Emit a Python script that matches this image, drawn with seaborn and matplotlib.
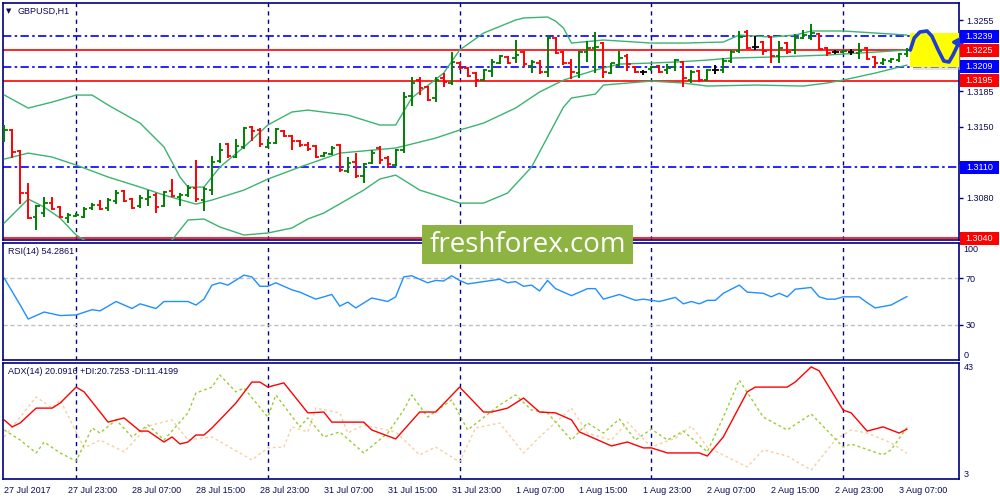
import numpy as np
import pandas as pd
import matplotlib
matplotlib.use("Agg")
import matplotlib.pyplot as plt
import matplotlib.transforms as mtransforms
from matplotlib.patches import Rectangle
import seaborn as sns

sns.set_style("white")
plt.rcParams['font.family'] = ['Liberation Sans', 'DejaVu Sans']

# ---------------- data ----------------
opens = [1.31367, 1.31465, 1.31258, 1.30844, 1.30607, 1.30647, 1.30745, 1.30706, 1.30597, 1.30617,
         1.30607, 1.30696, 1.30726, 1.30696, 1.30765, 1.30864, 1.30785, 1.30716, 1.30785, 1.30824,
         1.30716, 1.30864, 1.30804, 1.30824, 1.30893, 1.30775, 1.30873, 1.31159, 1.31327, 1.31199,
         1.31298, 1.31495, 1.31465, 1.31298, 1.31337, 1.31455, 1.31406, 1.31357, 1.31317, 1.31307,
         1.31209, 1.31229, 1.31317, 1.31061, 1.31150, 1.31012, 1.31140, 1.31288, 1.31189, 1.31120,
         1.31268, 1.31800, 1.31958, 1.31889, 1.31781, 1.31978, 1.31929, 1.32126, 1.32077, 1.32027,
         1.31958, 1.32047, 1.32126, 1.32185, 1.32175, 1.32234, 1.32096, 1.32126, 1.32037, 1.32373,
         1.32234, 1.32126, 1.32027, 1.32234, 1.32274, 1.32323, 1.32027, 1.32106, 1.32195, 1.32086,
         1.32037, 1.32067, 1.32096, 1.32057, 1.32086, 1.32136, 1.31958, 1.32047, 1.31958, 1.32057,
         1.32057, 1.32146, 1.32244, 1.32432, 1.32284, 1.32333, 1.32382, 1.32195, 1.32323, 1.32254,
         1.32373, 1.32373, 1.32412, 1.32274, 1.32234, 1.32234, 1.32234, 1.32225, 1.32274, 1.32185,
         1.32126, 1.32146, 1.32155, 1.32215]
highs = [1.31515, 1.31475, 1.31268, 1.30943, 1.30726, 1.30804, 1.30804, 1.30716, 1.30647, 1.30647,
         1.30706, 1.30745, 1.30775, 1.30795, 1.30873, 1.30873, 1.30795, 1.30824, 1.30873, 1.30844,
         1.30864, 1.30982, 1.30844, 1.30923, 1.31169, 1.30903, 1.31209, 1.31337, 1.31337, 1.31376,
         1.31495, 1.31505, 1.31485, 1.31376, 1.31485, 1.31465, 1.31416, 1.31367, 1.31347, 1.31317,
         1.31248, 1.31307, 1.31327, 1.31199, 1.31238, 1.31140, 1.31268, 1.31307, 1.31209, 1.31278,
         1.31840, 1.31988, 1.31988, 1.31899, 1.31988, 1.32027, 1.32234, 1.32136, 1.32086, 1.32037,
         1.32067, 1.32165, 1.32205, 1.32195, 1.32353, 1.32244, 1.32155, 1.32155, 1.32392, 1.32382,
         1.32244, 1.32165, 1.32244, 1.32343, 1.32432, 1.32333, 1.32126, 1.32244, 1.32215, 1.32096,
         1.32057, 1.32096, 1.32106, 1.32116, 1.32165, 1.32146, 1.32057, 1.32057, 1.32067, 1.32106,
         1.32175, 1.32254, 1.32442, 1.32451, 1.32392, 1.32343, 1.32392, 1.32343, 1.32333, 1.32412,
         1.32451, 1.32511, 1.32422, 1.32284, 1.32254, 1.32254, 1.32264, 1.32323, 1.32284, 1.32195,
         1.32175, 1.32175, 1.32225, 1.32274]
lows = [1.31347, 1.31189, 1.30735, 1.30587, 1.30479, 1.30607, 1.30676, 1.30597, 1.30548, 1.30607,
        1.30597, 1.30676, 1.30676, 1.30666, 1.30735, 1.30755, 1.30686, 1.30696, 1.30716, 1.30647,
        1.30706, 1.30804, 1.30716, 1.30804, 1.30755, 1.30666, 1.30824, 1.31140, 1.31189, 1.31189,
        1.31278, 1.31357, 1.31298, 1.31288, 1.31327, 1.31396, 1.31268, 1.31298, 1.31258, 1.31189,
        1.31199, 1.31219, 1.31051, 1.31041, 1.30992, 1.30943, 1.31130, 1.31130, 1.31090, 1.31110,
        1.31238, 1.31702, 1.31810, 1.31751, 1.31741, 1.31889, 1.31909, 1.32057, 1.31988, 1.31889,
        1.31948, 1.31988, 1.32116, 1.32116, 1.32126, 1.32086, 1.32027, 1.32017, 1.31988, 1.32215,
        1.32106, 1.31968, 1.31978, 1.32136, 1.32027, 1.31978, 1.32017, 1.32086, 1.32047, 1.32027,
        1.32008, 1.32047, 1.32027, 1.32017, 1.32047, 1.31889, 1.31929, 1.31939, 1.31948, 1.32017,
        1.32027, 1.32126, 1.32225, 1.32264, 1.32254, 1.32205, 1.32126, 1.32126, 1.32215, 1.32215,
        1.32363, 1.32353, 1.32254, 1.32195, 1.32215, 1.32225, 1.32205, 1.32165, 1.32155, 1.32077,
        1.32106, 1.32126, 1.32136, 1.32185]
closes = [1.31465, 1.31248, 1.30844, 1.30597, 1.30716, 1.30745, 1.30686, 1.30607, 1.30627, 1.30627,
          1.30686, 1.30726, 1.30686, 1.30775, 1.30844, 1.30765, 1.30696, 1.30795, 1.30804, 1.30706,
          1.30854, 1.30814, 1.30824, 1.30893, 1.30785, 1.30883, 1.31150, 1.31268, 1.31209, 1.31307,
          1.31485, 1.31455, 1.31327, 1.31337, 1.31475, 1.31406, 1.31357, 1.31317, 1.31278, 1.31199,
          1.31238, 1.31288, 1.31071, 1.31140, 1.31012, 1.31130, 1.31238, 1.31169, 1.31130, 1.31268,
          1.31791, 1.31929, 1.31879, 1.31761, 1.31958, 1.31939, 1.32136, 1.32077, 1.31998, 1.31958,
          1.32057, 1.32136, 1.32195, 1.32126, 1.32205, 1.32116, 1.32136, 1.32037, 1.32373, 1.32225,
          1.32126, 1.32037, 1.32234, 1.32274, 1.32284, 1.32037, 1.32126, 1.32175, 1.32116, 1.32037,
          1.32037, 1.32086, 1.32037, 1.32077, 1.32155, 1.31978, 1.32037, 1.31958, 1.32057, 1.32057,
          1.32146, 1.32234, 1.32382, 1.32274, 1.32284, 1.32244, 1.32195, 1.32274, 1.32234, 1.32373,
          1.32402, 1.32422, 1.32264, 1.32225, 1.32234, 1.32244, 1.32234, 1.32244, 1.32165, 1.32126,
          1.32155, 1.32165, 1.32215, 1.32254]

# Bollinger bands (bar index, price)
bb_up_idx = [0, 3, 6, 9, 11, 13, 17, 20, 22, 23, 25, 27, 30, 33, 36, 38, 43, 47, 49, 51, 55, 57, 60,
             64, 65, 68, 69, 70, 71, 75, 81, 85, 90, 92, 96, 99, 101, 105, 109, 113]
bb_up = [1.31811, 1.31682, 1.31741, 1.31810, 1.31810, 1.31712, 1.31534, 1.31298, 1.31002, 1.30903,
         1.30903, 1.31100, 1.31298, 1.31515, 1.31643, 1.31662, 1.31613, 1.31515, 1.31515, 1.31781,
         1.32027, 1.32254, 1.32422, 1.32550, 1.32570, 1.32580, 1.32540, 1.32471, 1.32323, 1.32353,
         1.32323, 1.32323, 1.32333, 1.32402, 1.32382, 1.32402, 1.32442, 1.32442, 1.32422, 1.32402]
bb_mid_idx = [0, 3, 6, 9, 13, 17, 20, 24, 26, 30, 33, 37, 42, 49, 54, 57, 60, 64, 67, 70, 74, 77,
              81, 84, 88, 91, 96, 103, 109, 113]
bb_mid = [1.31179, 1.31238, 1.31199, 1.31120, 1.31002, 1.30903, 1.30824, 1.30735, 1.30775, 1.30873,
          1.30982, 1.31100, 1.31238, 1.31288, 1.31386, 1.31465, 1.31534, 1.31682, 1.31840, 1.31958,
          1.32057, 1.32116, 1.32126, 1.32136, 1.32155, 1.32175, 1.32185, 1.32205, 1.32234, 1.32254]
bb_low_idx = [0, 3, 5, 7, 9, 10, 12, 15, 18, 20, 21, 23, 25, 27, 30, 33, 36, 38, 40, 45, 47, 49, 52,
              54, 57, 60, 63, 66, 68, 70, 71, 74, 75, 81, 85, 88, 94, 100, 103, 105, 109, 113]
bb_low = [1.30548, 1.30785, 1.30706, 1.30597, 1.30430, 1.30381, 1.30302, 1.30262, 1.30282, 1.30332,
          1.30381, 1.30578, 1.30588, 1.30509, 1.30430, 1.30450, 1.30499, 1.30588, 1.30647, 1.30873,
          1.30982, 1.31021, 1.30873, 1.30824, 1.30745, 1.30745, 1.30844, 1.31100, 1.31396, 1.31692,
          1.31781, 1.31820, 1.31909, 1.31948, 1.31929, 1.31899, 1.31909, 1.31899, 1.31929, 1.31958,
          1.32027, 1.32106]

rsi_idx = [0, 2, 3, 5, 7, 9, 11, 12, 14, 16, 17, 19, 20, 22, 23, 24, 25, 26, 27, 28, 30, 31, 32, 33,
           34, 36, 37, 39, 41, 42, 43, 44, 46, 48, 49, 50, 51, 53, 54, 55, 56, 57, 58, 60, 62, 63,
           64, 65, 66, 67, 68, 69, 71, 73, 74, 75, 77, 79, 80, 81, 82, 84, 85, 86, 87, 88, 89, 90,
           92, 93, 95, 96, 97, 98, 99, 101, 102, 103, 104, 105, 107, 108, 109, 111, 113]
rsi_val = [70, 47, 35, 41, 38, 38.5, 43, 42, 50, 44, 48, 44, 50, 50, 50, 47, 52, 64, 66, 64, 72.5, 71,
           63, 63, 66, 60, 58, 52, 56, 46, 49.5, 44.5, 53, 50, 54, 71, 72, 66, 68, 67.5, 72, 68, 65,
           67, 69, 66, 67, 63, 64, 59, 68, 61, 55, 61, 61, 52, 56, 51, 52, 51, 50, 53.5, 48, 50, 48,
           51, 51, 57, 64, 58, 57, 54, 57, 54, 60.5, 62, 54, 52, 52, 54, 54, 49, 44.5, 47, 54.29]

adx_idx = [0, 1, 2, 4, 6, 7, 9, 10, 13, 15, 17, 18, 20, 21, 22, 23, 24, 25, 26, 29, 31, 32, 33, 35,
           38, 40, 41, 45, 46, 49, 52, 54, 57, 60, 61, 63, 65, 67, 69, 71, 72, 76, 78, 80, 81, 83,
           87, 88, 90, 93, 94, 95, 98, 99, 101, 102, 105, 106, 108, 110, 112, 113]
adx_val = [23.4, 20.9, 22.3, 27.6, 27.6, 29.4, 35.1, 33.4, 22.6, 24.1, 19.4, 19.4, 15.5, 17.3, 14.8,
           15.5, 18, 18, 20.5, 29.4, 36.9, 36.9, 35.1, 36.6, 25.9, 26.2, 22.6, 22.6, 19.8, 16.6, 26.2,
           26.2, 35.1, 26.2, 26.2, 27.6, 31.2, 26.2, 25.9, 23.4, 19.1, 14.1, 15.5, 13.4, 13.4, 11.6,
           11.6, 10.5, 17.3, 33.4, 35.1, 35.1, 35.1, 36.9, 42.3, 40.9, 26.9, 25.9, 19.4, 20.9, 18.7,
           20.09]
pdi_idx = [0, 2, 4, 5, 7, 9, 11, 12, 14, 16, 18, 20, 23, 24, 26, 27, 29, 30, 33, 34, 37, 38, 40, 42,
           45, 48, 50, 51, 53, 56, 58, 62, 64, 66, 68, 71, 73, 75, 77, 79, 81, 83, 85, 88, 90, 92,
           95, 98, 101, 105, 106, 110, 111, 113]
pdi_val = [19.8, 16.2, 11.6, 15.5, 11.6, 8.7, 20.5, 18.7, 23.4, 17.3, 21.6, 16.2, 25.9, 33, 35.1,
           39.4, 33.4, 34.8, 24.4, 32.3, 20.9, 24.1, 17.3, 19.1, 11.6, 18.7, 26.9, 32.3, 24.4, 30.5,
           19.8, 28.7, 32.3, 26.9, 25.9, 16.2, 22.3, 18.7, 23.7, 16.2, 20.1, 16.2, 19.4, 12, 24.4,
           37.6, 24.4, 19.8, 25.5, 13.7, 14.8, 10.9, 12.7, 20.73]
mdi_idx = [0, 4, 6, 7, 10, 12, 15, 18, 21, 23, 26, 31, 33, 35, 36, 38, 39, 42, 43, 45, 49, 52, 54,
           57, 59, 62, 65, 67, 71, 73, 76, 78, 81, 84, 86, 88, 93, 95, 98, 101, 104, 106, 108, 111, 113]
mdi_val = [17.3, 31.6, 27.6, 30.5, 13.4, 16.2, 12, 21.2, 23.4, 16.2, 17.3, 9.1, 13.4, 13.7, 20.9,
           19.1, 27.6, 25.9, 18.7, 21.6, 19.1, 10.9, 13.7, 8.4, 20.5, 22.3, 11.6, 17.3, 27.6, 18.7,
           16.2, 22.6, 13.7, 16.9, 21.2, 13.7, 6.6, 12.7, 10.5, 5.5, 16.2, 19.8, 18.7, 15.2, 11.42]

xtick_idx = list(range(0, 113, 8))
xtick_labels = ["27 Jul 2017", "27 Jul 23:00", "28 Jul 07:00", "28 Jul 15:00", "28 Jul 23:00",
                "31 Jul 07:00", "31 Jul 15:00", "31 Jul 23:00", "1 Aug 07:00", "1 Aug 15:00",
                "1 Aug 23:00", "2 Aug 07:00", "2 Aug 15:00", "2 Aug 23:00", "3 Aug 07:00"]
day_sep_idx = [9, 33, 57, 81, 105]
price_ticks = [1.3045, 1.3080, 1.3115, 1.3150, 1.3185, 1.3220, 1.3255]
price_tick_labels = ["", "1.3080", "", "1.3150", "1.3185", "", "1.3255"]  # others hidden under level boxes
blue_levels = [1.3239, 1.3209, 1.3110]
red_levels = [1.3225, 1.3195, 1.3040]

# annotation sketch (yellow box + drawn wave)
wave_x = [113.4, 113.9, 114.6, 115.5, 116.1, 116.9, 117.6, 118.25, 118.75, 119.4]
wave_y = [1.32254, 1.32373, 1.32432, 1.32442, 1.32392, 1.32254, 1.32146, 1.32136, 1.32205, 1.32313]

# ---------------- style ----------------
NAVY = "#000080"
TXT = "#0A0A5A"
BULL, BEAR, DOJI = "#008000", "#FF0000", "#000000"
BB = "#3CB371"

fig = plt.figure(figsize=(10, 5), dpi=100)
fig.patch.set_facecolor("white")
L, W = 0.003, 0.956
ax1 = fig.add_axes([L, 0.52, W, 0.474])
ax2 = fig.add_axes([L, 0.28, W, 0.234])
ax3 = fig.add_axes([L, 0.042, W, 0.232])
XMIN, XMAX = -0.15, 119.5

for ax in (ax1, ax2, ax3):
    ax.set_xlim(XMIN, XMAX)
    for s in ax.spines.values():
        s.set_color(NAVY)
        s.set_linewidth(1.2)
    ax.set_facecolor("white")
    for d in day_sep_idx:
        ax.axvline(d, color=NAVY, lw=1.0, ls=(0, (3, 3)), zorder=1)
    ax.set_xticks([])
    ax.yaxis.tick_right()
    ax.tick_params(axis="y", direction="out", length=3, width=1, color=NAVY,
                   labelsize=6.5, labelcolor=TXT, pad=2)

# ---- main panel ----
ax1.set_ylim(1.30381, 1.32718)
for lv in blue_levels:
    ax1.axhline(lv, color="#0000FF", lw=1.2, ls=(0, (5, 2, 1.5, 2)), zorder=2)
for lv in red_levels:
    ax1.axhline(lv, color="#FF0000", lw=1.2, zorder=2)

bands = pd.concat([
    pd.DataFrame({"i": bb_up_idx, "p": bb_up, "b": "up"}),
    pd.DataFrame({"i": bb_mid_idx, "p": bb_mid, "b": "mid"}),
    pd.DataFrame({"i": bb_low_idx, "p": bb_low, "b": "low"}),
])
sns.lineplot(data=bands, x="i", y="p", units="b", estimator=None, color=BB, lw=1.0,
             ax=ax1, legend=False, zorder=3)

idx = np.arange(len(opens))
o, h, l, c = map(np.array, (opens, highs, lows, closes))
cols = [BULL if cc > oo else (BEAR if cc < oo else DOJI) for oo, cc in zip(o, c)]
ax1.vlines(idx, l, h, colors=cols, lw=1.4, zorder=4)
ax1.hlines(o, idx - 0.42, idx, colors=cols, lw=1.3, zorder=4)
ax1.hlines(c, idx, idx + 0.42, colors=cols, lw=1.3, zorder=4)

ax1.set_yticks(price_ticks)
ax1.set_yticklabels(price_tick_labels)
ax1.set_xlabel("")
ax1.set_ylabel("")

# level boxes on the price scale
trans = mtransforms.blended_transform_factory(ax1.transAxes, ax1.transData)
bh = 13 * (1.32718 - 1.30381) / 237
for lv in blue_levels + red_levels:
    colr = "#0000FF" if lv in blue_levels else "#FF0000"
    ax1.add_patch(Rectangle((1.0012, lv - bh / 2), 0.0405, bh, transform=trans,
                            facecolor=colr, edgecolor="none", clip_on=False, zorder=10))
    ax1.text(1.0215, lv, f"{lv:.4f}", transform=trans, ha="center", va="center",
             color="white", fontsize=6.5, clip_on=False, zorder=11)

# yellow box sketch
ax1.add_patch(Rectangle((113.8, 1.32055), 6.0, 0.00330, facecolor="#C8C8C8", alpha=0.5,
                        edgecolor="none", zorder=5, clip_on=False))
ax1.add_patch(Rectangle((113.4, 1.32086), 6.1, 0.00336, facecolor="#FFFF00",
                        edgecolor="none", zorder=6, clip_on=False))
ax1.plot(wave_x, wave_y, color="#1E3CD8", lw=2.6, solid_capstyle="round", zorder=7, clip_on=False)
ax1.annotate("", xy=(120.1, 1.32420), xytext=(119.4, 1.32313),
             arrowprops=dict(arrowstyle="-|>,head_length=0.5,head_width=0.35",
                             color="#1E3CD8", lw=2.4), annotation_clip=False, zorder=8)

# ---- RSI panel ----
ax2.set_ylim(0, 100)
ax2.axhline(70, color="#C0C0C0", lw=1, ls=(0, (3, 2)), zorder=1)
ax2.axhline(30, color="#C0C0C0", lw=1, ls=(0, (3, 2)), zorder=1)
sns.lineplot(x=rsi_idx, y=rsi_val, ax=ax2, color="#1E90FF", lw=1.0, estimator=None)
ax2.set_yticks([30, 70])
ax2.set_yticklabels(["30", "70"])
ax2.text(1.005, 0.985, "100", transform=ax2.transAxes, ha="left", va="top", fontsize=6.5, color=TXT)
ax2.text(1.005, 0.0, "0", transform=ax2.transAxes, ha="left", va="bottom", fontsize=6.5, color=TXT)
ax2.set_xlabel("")
ax2.set_ylabel("")

# ---- ADX panel ----
ax3.set_ylim(2.3, 43.7)
sns.lineplot(x=mdi_idx, y=mdi_val, ax=ax3, color="#F7CFA0", lw=1.0, estimator=None,
             linestyle=(0, (2, 2)))
sns.lineplot(x=pdi_idx, y=pdi_val, ax=ax3, color="#9ACD32", lw=1.0, estimator=None,
             linestyle=(0, (2, 2)))
sns.lineplot(x=adx_idx, y=adx_val, ax=ax3, color="#FF0000", lw=1.0, estimator=None)
ax3.set_yticks([])
ax3.text(1.005, 1.0, "43", transform=ax3.transAxes, ha="left", va="top", fontsize=6.5, color=TXT)
ax3.text(1.005, 0.0, "3", transform=ax3.transAxes, ha="left", va="bottom", fontsize=6.5, color=TXT)
ax3.set_ylabel("")
ax3.set_xticks(xtick_idx)
ax3.set_xticklabels(xtick_labels, ha="left")
ax3.tick_params(axis="x", direction="out", length=4, width=1, color=NAVY,
                labelsize=6.5, labelcolor=TXT, pad=1)
ax3.set_xlabel("")
for lab in ax3.get_xticklabels():
    lab.set_horizontalalignment("left")

# ---- texts ----
fig.text(0.006, 1 - 11 / 500, "▼", fontsize=5, color=TXT, va="center", family="DejaVu Sans")
fig.text(0.018, 1 - 11 / 500, "GBPUSD,H1", fontsize=6.5, color=TXT, va="center")
fig.text(0.008, 1 - 251 / 500, "RSI(14) 54.2861", fontsize=6.5, color=TXT, va="center")
fig.text(0.008, 1 - 371 / 500, "ADX(14) 20.0916 +DI:20.7253 -DI:11.4199", fontsize=6.5,
         color=TXT, va="center")

# watermark
fig.patches.append(Rectangle((0.422, 1 - 264 / 500), 0.211, 39 / 500, transform=fig.transFigure,
                             facecolor="#8DB443", edgecolor="none", zorder=20))
fig.text(0.5275, 1 - 245 / 500, "freshforex.com", fontsize=20, color="white", ha="center",
         va="center", family="Open Sans", zorder=21)

fig.savefig("out.png", dpi=100, facecolor="white")
